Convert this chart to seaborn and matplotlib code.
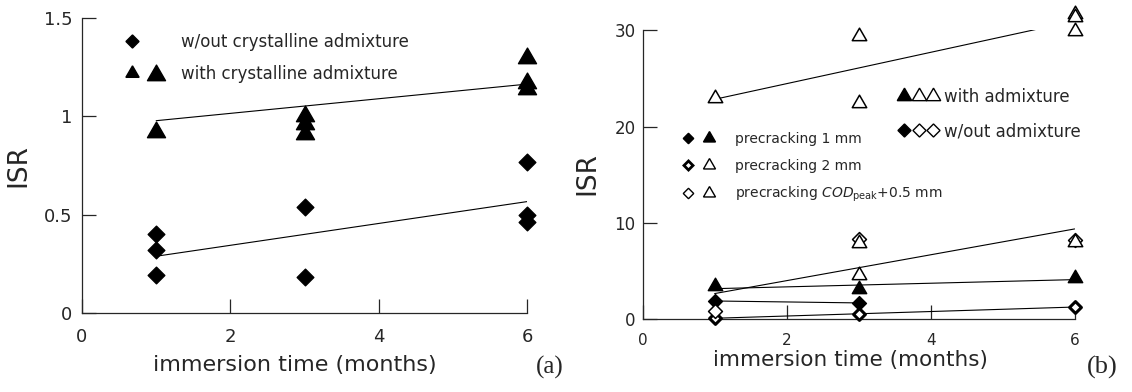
import numpy as np
import pandas as pd
import matplotlib
matplotlib.use("Agg")
import matplotlib.pyplot as plt
import seaborn as sns
from matplotlib.lines import Line2D
from matplotlib.legend_handler import HandlerTuple

# ---- panel (a): ISR, with / without crystalline admixture ----
a_months_without = [1, 1, 1, 3, 3, 6, 6, 6]
a_isr_without = [0.40, 0.32, 0.19, 0.54, 0.18, 0.77, 0.50, 0.46]
a_months_with = [1, 1, 3, 3, 3, 6, 6, 6]
a_isr_with = [1.21, 0.92, 1.00, 0.96, 0.91, 1.30, 1.17, 1.14]
a_legend_labels = ["w/out crystalline admixture", "with crystalline admixture"]
a_yticks = [0, 0.5, 1, 1.5]
a_yticklabels = ["0", "0.5", "1", "1.5"]

# ---- panel (b): ISR by precracking level ----
b_months_1mm_wo = [1, 3]
b_isr_1mm_wo = [1.9, 1.7]
b_months_1mm_w = [1, 3, 6]
b_isr_1mm_w = [3.45, 3.1, 4.3]
b_months_2mm_wo = [1, 3, 6]
b_isr_2mm_wo = [0.15, 0.5, 1.3]
b_months_2mm_w = [1, 3, 3, 6, 6, 6]
b_isr_2mm_w = [23.0, 29.4, 22.5, 31.7, 31.4, 29.9]
b_months_cod_wo = [1, 3, 6]
b_isr_cod_wo = [0.9, 8.3, 8.2]
b_months_cod_w = [3, 3, 6]
b_isr_cod_w = [4.6, 7.9, 8.0]
b_precrack_labels = ["precracking 1 mm", "precracking 2 mm",
                     r"precracking $\mathit{COD}_{\mathregular{peak}}$+0.5 mm"]
b_admix_labels = ["with admixture", "w/out admixture"]
b_yticks = [0, 10, 20, 30]
xticks = [0, 2, 4, 6]

xlabel = "immersion time (months)"
ylabel = "ISR"

DIAMOND = (4, 0, 0)
TRIANGLE = (3, 0, 0)

sns.set_style("ticks")
plt.rcParams["font.family"] = ["DejaVu Sans"]
plt.rcParams["mathtext.fontset"] = "dejavusans"
plt.rcParams["axes.linewidth"] = 0.9


def draw_series(ax, months, isr, marker, size, face="black", lw=1.0, fit=True):
    sns.scatterplot(x=months, y=isr, ax=ax, marker=marker, s=size ** 2,
                    color=face, edgecolor="black", linewidth=lw,
                    clip_on=False, zorder=3, legend=False)
    if fit:
        sns.regplot(x=months, y=isr, ax=ax, scatter=False, ci=None,
                    truncate=True, color="black",
                    line_kws=dict(lw=0.8, zorder=2))


def mk(marker, ms, face="black", mew=1.0):
    return Line2D([], [], ls="none", marker=marker, ms=ms,
                  mfc=face, mec="black", mew=mew)


fig = plt.figure(figsize=(11.32, 3.92), dpi=100)
ax_a = fig.add_axes([0.0724, 0.2023, 0.3934, 0.751])
ax_b = fig.add_axes([0.5677, 0.1855, 0.3816, 0.7372])

# panel (a)
draw_series(ax_a, a_months_without, a_isr_without, DIAMOND, 12)
draw_series(ax_a, a_months_with, a_isr_with, TRIANGLE, 15)
ax_a.set_xlim(0, 6)
ax_a.set_ylim(0, 1.5)
ax_a.set_xticks(xticks)
ax_a.set_xticklabels([str(t) for t in xticks])
ax_a.set_yticks(a_yticks)
ax_a.set_yticklabels(a_yticklabels)
ax_a.tick_params(axis="both", direction="in", length=10, width=0.9, labelsize=13)
ax_a.tick_params(axis="y", pad=7)
ax_a.tick_params(axis="x", pad=11)
ax_a.set_xlabel(xlabel, fontsize=16)
ax_a.set_ylabel(ylabel, fontsize=19)
ax_a.xaxis.set_label_coords(0.478, -0.144)
ax_a.yaxis.set_label_coords(-0.113, 0.5)
ax_a.legend([mk(DIAMOND, 9.4), mk(TRIANGLE, 11)], a_legend_labels,
            loc="upper left", bbox_to_anchor=(0.0748, 0.95), frameon=False,
            fontsize=12, handlelength=2, handletextpad=1.93, labelspacing=0.81,
            borderpad=0, borderaxespad=0)

# panel (b)
draw_series(ax_b, b_months_1mm_wo, b_isr_1mm_wo, DIAMOND, 10)
draw_series(ax_b, b_months_1mm_w, b_isr_1mm_w, TRIANGLE, 12)
draw_series(ax_b, b_months_2mm_wo, b_isr_2mm_wo, DIAMOND, 8.5, face="white", lw=2.2)
draw_series(ax_b, b_months_2mm_w, b_isr_2mm_w, TRIANGLE, 12, face="white", lw=1.1)
draw_series(ax_b, b_months_cod_wo, b_isr_cod_wo, DIAMOND, 10, face="white", lw=1.1)
draw_series(ax_b, b_months_cod_w, b_isr_cod_w, TRIANGLE, 12, face="white", lw=1.1, fit=False)
ax_b.set_xlim(0, 6)
ax_b.set_ylim(0, 30)
ax_b.set_xticks(xticks)
ax_b.set_xticklabels([str(t) for t in xticks])
ax_b.set_yticks(b_yticks)
ax_b.set_yticklabels([str(t) for t in b_yticks])
ax_b.tick_params(axis="both", direction="in", length=10, width=0.9)
ax_b.tick_params(axis="y", pad=5, labelsize=12)
ax_b.tick_params(axis="x", pad=10, labelsize=11)
ax_b.set_xlabel(xlabel, fontsize=15.5)
ax_b.set_ylabel(ylabel, fontsize=19)
ax_b.xaxis.set_label_coords(0.48, -0.106)
ax_b.yaxis.set_label_coords(-0.098, 0.503)

precrack_handles = [
    (mk(DIAMOND, 7.5), mk(TRIANGLE, 10)),
    (mk(DIAMOND, 6.5, "white", 2.0), mk(TRIANGLE, 10, "white")),
    (mk(DIAMOND, 7.5, "white"), mk(TRIANGLE, 10, "white")),
]
leg1 = ax_b.legend(precrack_handles, b_precrack_labels,
                   handler_map={tuple: HandlerTuple(ndivide=None, pad=0.3)},
                   loc="upper left", bbox_to_anchor=(0.0865, 0.647), frameon=False,
                   fontsize=10, handlelength=2.7, handletextpad=1.26,
                   labelspacing=0.88, borderpad=0, borderaxespad=0)
ax_b.add_artist(leg1)
admix_handles = [
    (mk(TRIANGLE, 12), mk(TRIANGLE, 12, "white"), mk(TRIANGLE, 12, "white")),
    (mk(DIAMOND, 9.4), mk(DIAMOND, 9.4, "white"), mk(DIAMOND, 9.4, "white")),
]
ax_b.legend(admix_handles, b_admix_labels,
            handler_map={tuple: HandlerTuple(ndivide=None, pad=0)},
            loc="upper left", bbox_to_anchor=(0.588, 0.80), frameon=False,
            fontsize=12, handlelength=2.65, handletextpad=0.21,
            labelspacing=0.97, borderpad=0, borderaxespad=0)

sns.despine(fig=fig)

fig.text(0.486, 0.0638, "(a)", family="Liberation Serif", fontsize=18,
         ha="center", va="center")
fig.text(0.974, 0.0638, "(b)", family="Liberation Serif", fontsize=19,
         ha="center", va="center")

fig.savefig("out.png", dpi=100)
